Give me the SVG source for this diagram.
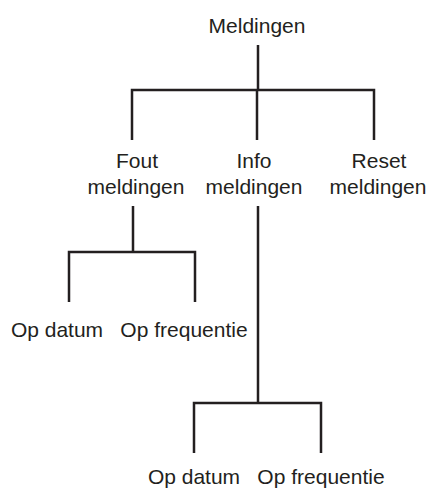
<svg xmlns="http://www.w3.org/2000/svg" width="429" height="489" viewBox="0 0 429 489">
<style>
text{font-family:"Liberation Sans",Arial,sans-serif;font-size:21px;fill:#231f20;text-anchor:middle}
.c{fill:none;stroke:#231f20;stroke-width:2.5}
</style>
<rect width="429" height="489" fill="#fff"/>
<g id="connectors" class="c">
<path d="M258 45V90M132 140V90H374V140M257 90V140"/>
<path d="M133 206V252M69 302V252H195V302"/>
<path d="M258 206V403M194 453V403H321V453"/>
</g>
<g id="meldingen"><text x="257" y="33">Meldingen</text></g>
<g id="fout"><text x="137" y="168">Fout</text><text x="136" y="194">meldingen</text></g>
<g id="info"><text x="254" y="168">Info</text><text x="254" y="194">meldingen</text></g>
<g id="reset"><text x="379" y="168">Reset</text><text x="378" y="194">meldingen</text></g>
<g id="fout-datum"><text x="57" y="337">Op datum</text></g>
<g id="fout-freq"><text x="184" y="337">Op frequentie</text></g>
<g id="info-datum"><text x="194" y="484">Op datum</text></g>
<g id="info-freq"><text x="321" y="484">Op frequentie</text></g>
</svg>
